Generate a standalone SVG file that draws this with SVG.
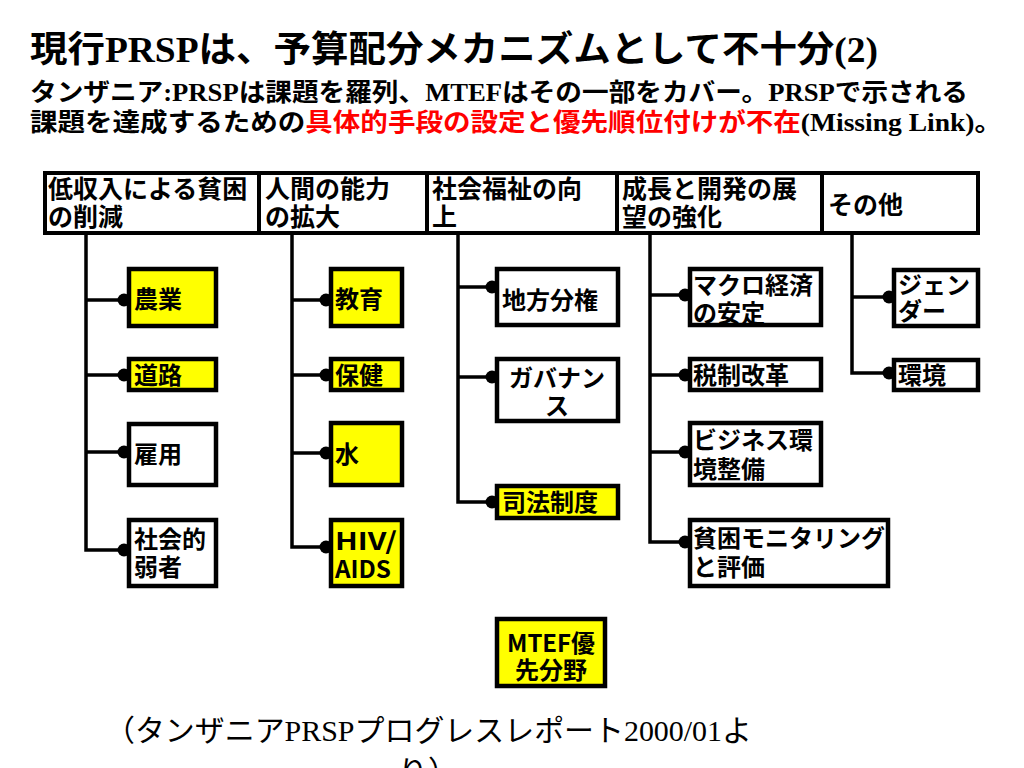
<svg xmlns="http://www.w3.org/2000/svg" width="1024" height="768" viewBox="0 0 1024 768">
<defs>
<style>
.bg{fill:#ffffff}
.cell{fill:#ffffff;stroke:#000;stroke-width:4}
.box{fill:#ffffff;stroke:#000;stroke-width:4.5}
.ybox{fill:#ffff00;stroke:#000;stroke-width:4.5}
.conn{fill:none;stroke:#000;stroke-width:3.5;marker-end:url(#dot)}
.trunk{fill:none;stroke:#000;stroke-width:3.5}
.hd{font-family:"Noto Sans CJK JP",sans-serif;font-size:25px;font-weight:bold;fill:#000}
.nd{font-family:"Noto Sans CJK JP",sans-serif;font-size:24px;font-weight:bold;fill:#000}
.ttl{font-family:"Liberation Serif","Noto Sans CJK JP",serif;font-weight:bold;fill:#000}
.cap{font-family:"Liberation Serif","Noto Sans CJK JP",serif;font-weight:normal;font-size:30px;fill:#000}
.red{fill:#ff0000}
</style>
<marker id="dot" viewBox="-7 -7 14 14" markerWidth="14" markerHeight="14" markerUnits="userSpaceOnUse" refX="0" refY="0" orient="auto">
<circle r="6.5" fill="#000"/>
</marker>
</defs>
<rect class="bg" x="0" y="0" width="1024" height="768"/>

<g id="title">
<text class="ttl" x="30" y="62" font-size="36" textLength="848" lengthAdjust="spacingAndGlyphs">現行PRSPは、予算配分メカニズムとして不十分(2)</text>
<text class="ttl" x="30" y="101" font-size="25" textLength="938" lengthAdjust="spacingAndGlyphs">タンザニア:PRSPは課題を羅列、MTEFはその一部をカバー。PRSPで示される</text>
<text class="ttl" x="30" y="131" font-size="25" textLength="972" lengthAdjust="spacingAndGlyphs">課題を達成するための<tspan class="red">具体的手段の設定と優先順位付けが不在</tspan>(Missing Link)。</text>
</g>

<g id="connectors">
<path class="conn" d="M86 235 V550 H124"/>
<path class="conn" d="M86 300 H124"/>
<path class="conn" d="M86 375 H124"/>
<path class="conn" d="M86 452 H124"/>
<path class="conn" d="M292 235 V547 H326"/>
<path class="conn" d="M292 300 H326"/>
<path class="conn" d="M292 375 H326"/>
<path class="conn" d="M292 453 H326"/>
<path class="conn" d="M458 235 V502 H492"/>
<path class="conn" d="M458 287 H492"/>
<path class="conn" d="M458 377 H492"/>
<path class="conn" d="M650 235 V542 H685"/>
<path class="conn" d="M650 295 H685"/>
<path class="conn" d="M650 375 H685"/>
<path class="conn" d="M650 452 H685"/>
<path class="conn" d="M852 235 V373 H889"/>
<path class="conn" d="M852 297 H889"/>
</g>

<g id="h1"><rect class="cell" x="45" y="173" width="214" height="60"/><text class="hd" x="48" y="198">低収入による貧困</text><text class="hd" x="48" y="226">の削減</text></g>
<g id="h2"><rect class="cell" x="259" y="173" width="168" height="60"/><text class="hd" x="265" y="198">人間の能力</text><text class="hd" x="265" y="226">の拡大</text></g>
<g id="h3"><rect class="cell" x="427" y="173" width="190" height="60"/><text class="hd" x="432" y="198">社会福祉の向</text><text class="hd" x="432" y="226">上</text></g>
<g id="h4"><rect class="cell" x="617" y="173" width="205" height="60"/><text class="hd" x="622" y="198">成長と開発の展</text><text class="hd" x="622" y="226">望の強化</text></g>
<g id="h5"><rect class="cell" x="822" y="173" width="156" height="60"/><text class="hd" x="828" y="214">その他</text></g>

<g id="n-nogyo"><rect class="ybox" x="129" y="269" width="87" height="57"/><text class="nd" x="134" y="308">農業</text></g>
<g id="n-doro"><rect class="ybox" x="129" y="359" width="87" height="31"/><text class="nd" x="134" y="384">道路</text></g>
<g id="n-koyo"><rect class="box" x="129" y="424" width="87" height="61"/><text class="nd" x="134" y="463">雇用</text></g>
<g id="n-jakusha"><rect class="box" x="129" y="520" width="87" height="66"/><text class="nd" x="134" y="548">社会的</text><text class="nd" x="134" y="576">弱者</text></g>

<g id="n-kyoiku"><rect class="ybox" x="331" y="269" width="71" height="57"/><text class="nd" x="335" y="308">教育</text></g>
<g id="n-hoken"><rect class="ybox" x="331" y="359" width="71" height="31"/><text class="nd" x="335" y="384">保健</text></g>
<g id="n-mizu"><rect class="ybox" x="331" y="423" width="71" height="62"/><text class="nd" x="335" y="463">水</text></g>
<g id="n-hiv"><rect class="ybox" x="331" y="520" width="71" height="66"/><text class="nd" x="335" y="550" textLength="62" lengthAdjust="spacingAndGlyphs">HIV/</text><text class="nd" x="335" y="578" textLength="56" lengthAdjust="spacingAndGlyphs">AIDS</text></g>

<g id="n-chiho"><rect class="box" x="497" y="269" width="121" height="56"/><text class="nd" x="502" y="309">地方分権</text></g>
<g id="n-gov"><rect class="box" x="497" y="359" width="121" height="62"/><text class="nd" x="557" y="387" text-anchor="middle">ガバナン</text><text class="nd" x="557" y="415" text-anchor="middle">ス</text></g>
<g id="n-shiho"><rect class="ybox" x="497" y="486" width="121" height="32"/><text class="nd" x="502" y="511">司法制度</text></g>

<g id="n-macro"><rect class="box" x="690" y="269" width="131" height="56"/><text class="nd" x="693" y="294">マクロ経済</text><text class="nd" x="693" y="322">の安定</text></g>
<g id="n-zei"><rect class="box" x="690" y="359" width="131" height="31"/><text class="nd" x="693" y="384">税制改革</text></g>
<g id="n-biz"><rect class="box" x="690" y="423" width="131" height="62"/><text class="nd" x="693" y="449">ビジネス環</text><text class="nd" x="693" y="478">境整備</text></g>
<g id="n-monitor"><rect class="box" x="690" y="520" width="198" height="66"/><text class="nd" x="693" y="547">貧困モニタリング</text><text class="nd" x="693" y="576">と評価</text></g>

<g id="n-gender"><rect class="box" x="894" y="270" width="84" height="56"/><text class="nd" x="898" y="294">ジェン</text><text class="nd" x="898" y="320">ダー</text></g>
<g id="n-kankyo"><rect class="box" x="894" y="360" width="84" height="30"/><text class="nd" x="898" y="384">環境</text></g>

<g id="n-mtef"><rect class="ybox" x="497" y="619" width="108" height="67"/><text class="nd" x="551" y="652" text-anchor="middle" textLength="88" lengthAdjust="spacingAndGlyphs">MTEF優</text><text class="nd" x="551" y="679" text-anchor="middle">先分野</text></g>

<g id="caption">
<text class="cap" x="105" y="741" textLength="647" lengthAdjust="spacingAndGlyphs">（タンザニアPRSPプログレスレポート2000/01よ</text>
<text class="cap" x="428" y="782" text-anchor="middle">り）</text>
</g>
</svg>
